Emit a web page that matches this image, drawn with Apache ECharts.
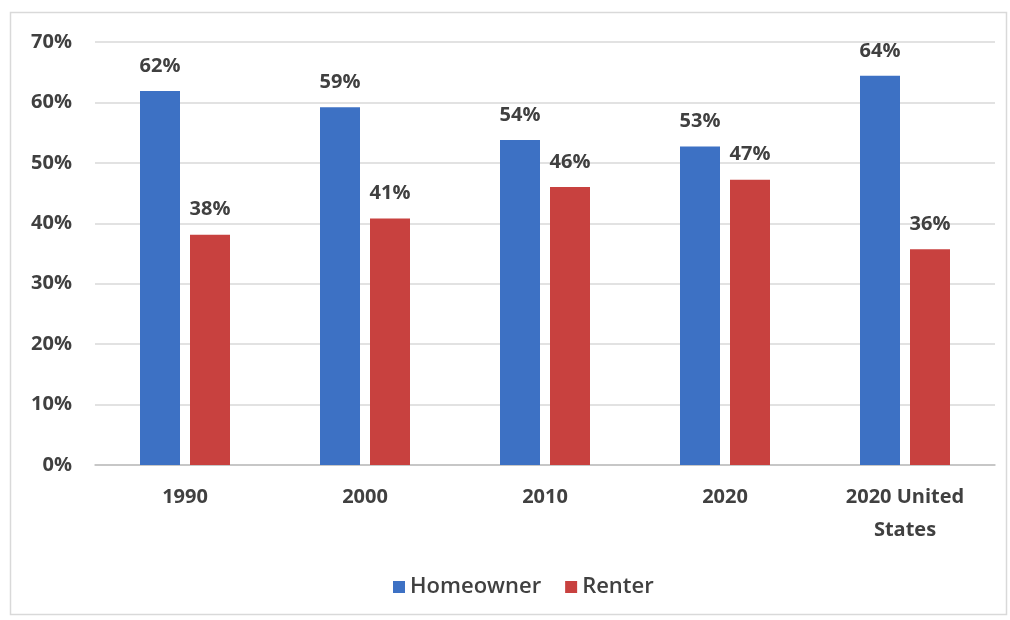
<!DOCTYPE html>
<html><head><meta charset="utf-8">
<script src="https://cdn.jsdelivr.net/npm/echarts@6/dist/echarts.min.js"></script>
<style>html,body{margin:0;padding:0;background:#fff}#c{width:1010px;height:620px}</style>
</head><body><div id="c"></div>
<script>
const categories = ['1990', '2000', '2010', '2020', '2020 United\nStates'];
const homeowner = [61.9, 59.2, 53.8, 52.7, 64.4];
const renter = [38.1, 40.8, 46.0, 47.2, 35.7];
const yTicks = [0, 10, 20, 30, 40, 50, 60, 70];

const chart = echarts.init(document.getElementById('c'));
const font = '"Open Sans", "Noto Sans", sans-serif';
const lbl = {show: true, position: 'top', distance: 15, color: '#404040', fontWeight: 'bold', fontSize: 20, fontFamily: font,
  formatter: p => Math.round(p.value) + '%'};
chart.setOption({
  animation: false,
  graphic: [{type: 'rect', left: 8, top: 10, shape: {width: 996, height: 602}, style: {fill: 'none', stroke: '#d9d9d9', lineWidth: 1.5}}],
  grid: {left: 95, right: 15, top: 42, bottom: 155},
  legend: {top: 571, left: 388, itemWidth: 12, itemHeight: 12, itemGap: 24, icon: 'rect',
    textStyle: {color: '#404040', fontSize: 22, fontFamily: font, fontWeight: 600}},
  xAxis: {type: 'category', data: categories,
    axisLine: {lineStyle: {color: '#bfbfbf', width: 1.5}}, axisTick: {show: false},
    axisLabel: {color: '#404040', fontWeight: 'bold', fontSize: 20, fontFamily: font, margin: 16, lineHeight: 33}},
  yAxis: {type: 'value', min: yTicks[0], max: yTicks[yTicks.length - 1], interval: 10,
    axisLine: {show: false}, axisTick: {show: false},
    splitLine: {lineStyle: {color: '#d9d9d9', width: 1.5}},
    axisLabel: {color: '#404040', fontWeight: 'bold', fontSize: 20, fontFamily: font, margin: 23, formatter: v => v + '%'}},
  series: [
    {name: 'Homeowner', type: 'bar', data: homeowner, barWidth: 40, barGap: '25%', itemStyle: {color: '#3D71C4'}, label: lbl},
    {name: 'Renter', type: 'bar', data: renter, barWidth: 40, itemStyle: {color: '#C8413F'}, label: lbl}
  ]
});
</script></body></html>
